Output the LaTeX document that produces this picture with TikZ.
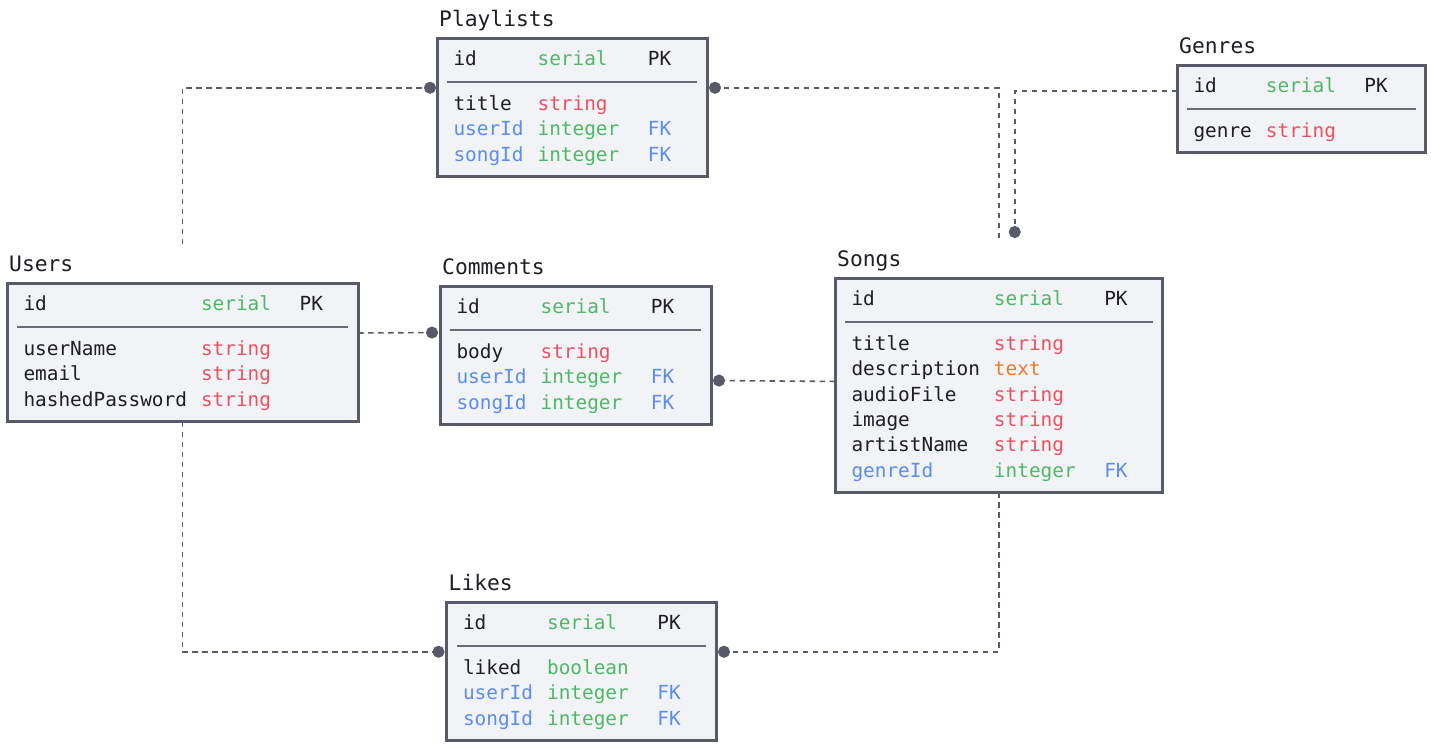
\documentclass[tikz,border=0pt]{standalone}
\usepackage{fontspec}
\newfontfamily\erfont{DejaVu Sans Mono}
\usetikzlibrary{arrows.meta}

\definecolor{ink}{HTML}{1E1E24}
\definecolor{edge}{HTML}{585A69}
\definecolor{paper}{HTML}{F2F3F7}
\definecolor{ergreen}{HTML}{4FB866}
\definecolor{erred}{HTML}{E9535F}
\definecolor{erblue}{HTML}{5B8CF0}
\definecolor{erorange}{HTML}{EE7B2D}

\newcommand\cgreen[1]{\textcolor{ergreen}{#1}}
\newcommand\cred[1]{\textcolor{erred}{#1}}
\newcommand\cblue[1]{\textcolor{erblue}{#1}}
\newcommand\corange[1]{\textcolor{erorange}{#1}}

% columns: name, type, key
\newenvironment{erfields}{\begin{tabular}{@{}l@{\hspace{14pt}}l@{\hspace{28.5pt}}l@{}}}{\\[-2pt]\end{tabular}}

\tikzset{
  tbl/.style={draw=edge, line width=3pt, fill=paper, anchor=north west, outer sep=0pt,
    inner xsep=16.5pt, inner ysep=9.8pt, align=left, text=ink,
    font=\erfont\fontsize{19.4}{25.3}\selectfont},
  ttl/.style={anchor=base west, inner sep=0pt, text=ink,
    font=\erfont\fontsize{21.3}{26}\selectfont},
  sepline/.style={draw=edge!90, line width=1.6pt},
  link/.style={draw=edge, line width=1.6pt, dash pattern=on 5.5pt off 4.5pt,
    -{Circle[length=12pt]}},
}

\begin{document}
\begin{tikzpicture}[x=1pt, y=-1pt]
  \fill[white] (0,0) rectangle (1431,748);
  \useasboundingbox (0,0) rectangle (1431,748);

  % Tables
  \node[tbl, text width=237pt] (playlists) at (437,38) {\begin{erfields}
    id & \cgreen{serial} & PK\\[19.7pt]
    title & \cred{string} & \\
    \cblue{userId} & \cgreen{integer} & \cblue{FK}\\
    \cblue{songId} & \cgreen{integer} & \cblue{FK}
  \end{erfields}};
  \node[tbl, text width=318pt] (users) at (7,283) {\begin{erfields}
    id & \cgreen{serial} & PK\\[19.7pt]
    userName & \cred{string} & \\
    email & \cred{string} & \\
    hashedPassword & \cred{string} &
  \end{erfields}};
  \node[tbl, text width=238pt] (comments) at (440,286) {\begin{erfields}
    id & \cgreen{serial} & PK\\[19.7pt]
    body & \cred{string} & \\
    \cblue{userId} & \cgreen{integer} & \cblue{FK}\\
    \cblue{songId} & \cgreen{integer} & \cblue{FK}
  \end{erfields}};
  \node[tbl, text width=294.5pt] (songs) at (835,278) {\begin{erfields}
    id & \cgreen{serial} & PK\\[19.7pt]
    title & \cred{string} & \\
    description & \corange{text} & \\
    audioFile & \cred{string} & \\
    image & \cred{string} & \\
    artistName & \cred{string} & \\
    \cblue{genreId} & \cgreen{integer} & \cblue{FK}
  \end{erfields}};
  \node[tbl, text width=215.5pt] (genres) at (1177,65) {\begin{erfields}
    id & \cgreen{serial} & PK\\[19.7pt]
    genre & \cred{string} &
  \end{erfields}};
  \node[tbl, text width=236.5pt] (likes) at (446.5,602) {\begin{erfields}
    id & \cgreen{serial} & PK\\[19.7pt]
    liked & \cgreen{boolean} & \\
    \cblue{userId} & \cgreen{integer} & \cblue{FK}\\
    \cblue{songId} & \cgreen{integer} & \cblue{FK}
  \end{erfields}};

  % Titles and header rules
  \foreach \t/\name in {playlists/Playlists, users/Users, comments/Comments,
                        songs/Songs, genres/Genres, likes/Likes} {
    \node[ttl] (\t-title) at ([shift={(2pt,11.5pt)}]\t.north west) {\name};
    \draw[sepline] ([shift={(10pt,-44pt)}]\t.north west) -- ([shift={(-10pt,-44pt)}]\t.north east);
  }

  % Links
  \draw[link] ([yshift=39pt]users.north) |- ([shift={(-1pt,19.5pt)}]playlists.west);
  \draw[link] ([yshift=40pt]songs.north) |- ([shift={(2pt,19.5pt)}]playlists.east);
  \draw[link] ([yshift=18pt]genres.west) -| ([shift={(16pt,40pt)}]songs.north);
  \draw[link] ([yshift=19.25pt]users.east) -- ([shift={(-2pt,22.75pt)}]comments.west);
  \draw[link] ([yshift=3.75pt]songs.west) -- ([shift={(2pt,-25.25pt)}]comments.east);
  \draw[link] (users.south) |- ([shift={(-2pt,19.5pt)}]likes.west);
  \draw[link] (songs.south) |- ([shift={(2pt,19.5pt)}]likes.east);
\end{tikzpicture}
\end{document}
